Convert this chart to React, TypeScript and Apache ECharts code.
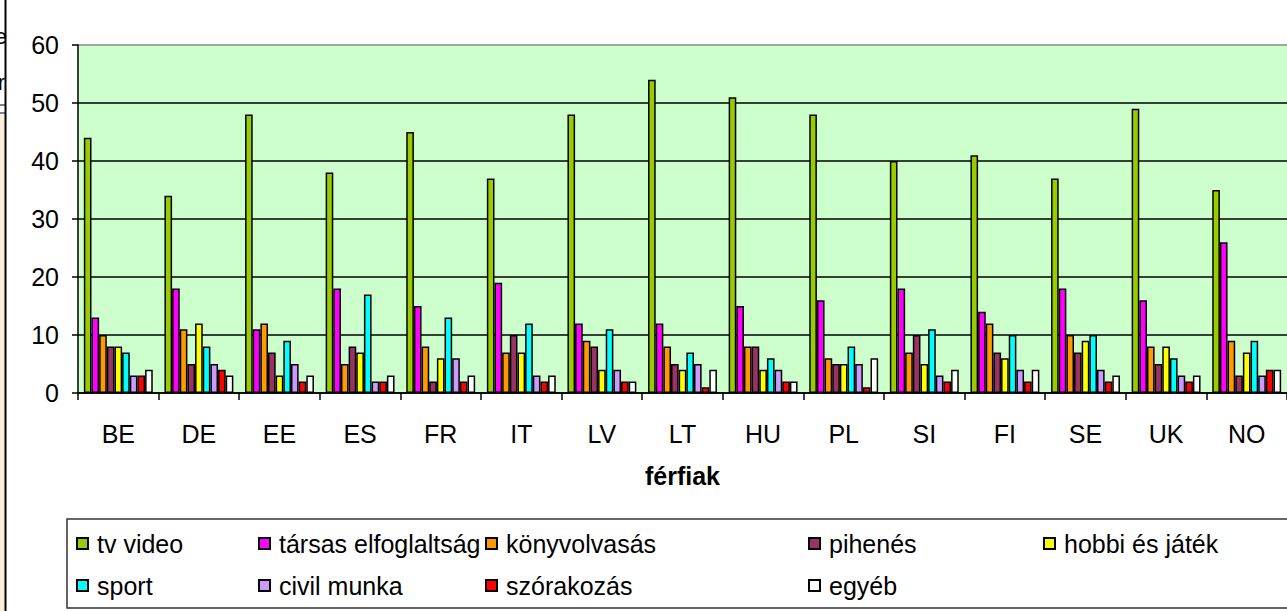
import React, { useEffect, useRef } from "react";
import * as echarts from "echarts";

const categories = ["BE", "DE", "EE", "ES", "FR", "IT", "LV", "LT", "HU", "PL", "SI", "FI", "SE", "UK", "NO"];

const tvVideo = [44, 34, 48, 38, 45, 37, 48, 54, 51, 48, 40, 41, 37, 49, 35];
const tarsas = [13, 18, 11, 18, 15, 19, 12, 12, 15, 16, 18, 14, 18, 16, 26];
const konyv = [10, 11, 12, 5, 8, 7, 9, 8, 8, 6, 7, 12, 10, 8, 9];
const pihenes = [8, 5, 7, 8, 2, 10, 8, 5, 8, 5, 10, 7, 7, 5, 3];
const hobbi = [8, 12, 3, 7, 6, 7, 4, 4, 4, 5, 5, 6, 9, 8, 7];
const sport = [7, 8, 9, 17, 13, 12, 11, 7, 6, 8, 11, 10, 10, 6, 9];
const civil = [3, 5, 5, 2, 6, 3, 4, 5, 4, 5, 3, 4, 4, 3, 3];
const szorakozas = [3, 4, 2, 2, 2, 2, 2, 1, 2, 1, 2, 2, 2, 2, 4];
const egyeb = [4, 3, 3, 3, 3, 3, 2, 4, 2, 6, 4, 4, 3, 3, 4];

const yTicks = [0, 10, 20, 30, 40, 50, 60];

const seriesDefs = [
  { name: "tv video", data: tvVideo, color: "#99CC00" },
  { name: "társas elfoglaltság", data: tarsas, color: "#FF00FF" },
  { name: "könyvolvasás", data: konyv, color: "#FF9900" },
  { name: "pihenés", data: pihenes, color: "#993366" },
  { name: "hobbi és játék", data: hobbi, color: "#FFFF00" },
  { name: "sport", data: sport, color: "#00FFFF" },
  { name: "civil munka", data: civil, color: "#CC99FF" },
  { name: "szórakozás", data: szorakozas, color: "#FF0000" },
  { name: "egyéb", data: egyeb, color: "#FFFFFF" },
];

const legendColumns = [
  { left: 76, items: ["tv video", "sport"] },
  { left: 258, items: ["társas elfoglaltság", "civil munka"] },
  { left: 485, items: ["könyvolvasás", "szórakozás"] },
  { left: 808, items: ["pihenés", "egyéb"] },
  { left: 1043, items: ["hobbi és játék"] },
];

const FONT = "'Liberation Sans', Arial, sans-serif";
const FS = 25;

export default function App() {
  const ref = useRef<HTMLDivElement>(null);
  useEffect(() => {
    if (!ref.current) return;
    const chart = echarts.init(ref.current, null, { renderer: "svg" });
    chart.setOption({
      animation: false,
      backgroundColor: "#FFFFFF",
      textStyle: { fontFamily: FONT },
      grid: {
        left: 78,
        top: 45,
        width: 1210.5,
        height: 348,
        show: true,
        backgroundColor: "#CCFFCC",
        borderWidth: 0,
      },
      legend: legendColumns.map((c) => ({
        data: c.items,
        orient: "vertical",
        left: c.left,
        top: 531,
        padding: 0,
        itemWidth: 11,
        itemHeight: 11,
        itemGap: 17,
        selectedMode: false,
        icon: "rect",
        textStyle: { fontSize: FS, color: "#000", fontFamily: FONT, padding: [0, 0, 0, 4] },
      })),
      xAxis: {
        type: "category",
        data: categories,
        name: "férfiak",
        nameLocation: "middle",
        nameGap: 70,
        nameTextStyle: { fontSize: FS, fontWeight: "bold", color: "#000", fontFamily: FONT },
        axisLine: { lineStyle: { color: "#000", width: 1.5 } },
        axisTick: { show: true, length: 7, lineStyle: { color: "#000", width: 1.5 } },
        axisLabel: { fontSize: FS, color: "#000", margin: 28, fontFamily: FONT },
      },
      yAxis: {
        type: "value",
        min: yTicks[0],
        max: yTicks[yTicks.length - 1],
        interval: 10,
        axisLine: { show: true, lineStyle: { color: "#000", width: 1.5 } },
        axisTick: { show: true, length: 6, lineStyle: { color: "#000", width: 1.5 } },
        axisLabel: { fontSize: FS, color: "#000", margin: 19, fontFamily: FONT },
        splitLine: {
          show: true,
          lineStyle: {
            color: ["#000", "#000", "#000", "#000", "#000", "#000", "#888"],
            width: 1.5,
          },
        },
      },
      series: seriesDefs.map((s) => ({
        type: "bar",
        name: s.name,
        data: s.data,
        barGap: "0%",
        barCategoryGap: "14.5%",
        itemStyle: { color: s.color, borderColor: "#000", borderWidth: 1.5 },
      })),
      graphic: [
        {
          type: "rect",
          shape: { x: 67, y: 519, width: 1240, height: 89 },
          style: { fill: "none", stroke: "#333", lineWidth: 1.5 },
          z: 0,
        },
        {
          type: "rect",
          shape: { x: 0, y: 115, width: 5, height: 496 },
          style: { fill: "#FCF0DC", stroke: "none" },
        },
        {
          type: "line",
          shape: { x1: 5.5, y1: 0, x2: 5.5, y2: 611 },
          style: { stroke: "#000", lineWidth: 2 },
        },
        {
          type: "line",
          shape: { x1: 0, y1: 105, x2: 6, y2: 105 },
          style: { stroke: "#000", lineWidth: 1 },
        },
        {
          type: "line",
          shape: { x1: 0, y1: 113, x2: 6, y2: 113 },
          style: { stroke: "#000", lineWidth: 1 },
        },
        {
          type: "text",
          x: 7,
          y: 36,
          style: { text: "e", fontSize: 22, fontFamily: FONT, fill: "#000", align: "right", verticalAlign: "middle" },
        },
        {
          type: "text",
          x: 5,
          y: 82,
          style: { text: "r", fontSize: 22, fontFamily: FONT, fill: "#000", align: "right", verticalAlign: "middle" },
        },
      ],
    });
    return () => chart.dispose();
  }, []);
  return (
    <div
      ref={ref}
      style={{ position: "absolute", left: 0, top: 0, width: 1287, height: 611 }}
    />
  );
}
